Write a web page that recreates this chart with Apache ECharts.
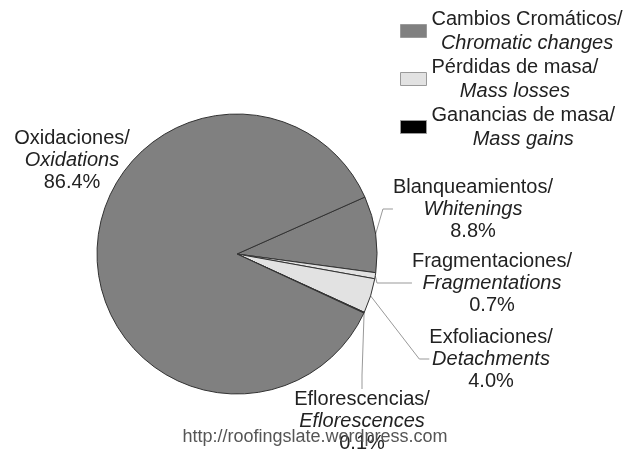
<!DOCTYPE html>
<html>
<head>
<meta charset="utf-8">
<script src="https://cdn.jsdelivr.net/npm/echarts@6/dist/echarts.min.js"></script>
<style>
  html, body { margin: 0; padding: 0; background: #fff; }
  #chart { width: 628px; height: 451px; }
</style>
</head>
<body>
<div id="chart"></div>
<script>
// Damage types (Spanish / English), share of cases in %, and damage group
const namesEs = ['Blanqueamientos/', 'Fragmentaciones/', 'Exfoliaciones/', 'Eflorescencias/', 'Oxidaciones/'];
const namesEn = ['Whitenings', 'Fragmentations', 'Detachments', 'Eflorescences', 'Oxidations'];
const shares = [8.8, 0.7, 4.0, 0.1, 86.4];
const groups = [0, 1, 1, 2, 0];

// Damage groups shown in the legend
const groupEs = ['Cambios Cromáticos/', 'Pérdidas de masa/', 'Ganancias de masa/'];
const groupEn = ['Chromatic changes', 'Mass losses', 'Mass gains'];
const groupColors = ['#808080', '#e2e2e2', '#000000'];

const FONT = '"Liberation Sans", Arial, sans-serif';

// Centre of each slice label block, and the horizontal tail of its leader line
const labelSpots = [[473, 209], [492, 283], [491, 359], [362, 421], [72, 160]];
const leaderTails = [10, 35, 10, 14, 0];

const groupNames = groupEs.map((g, i) => g + '\n' + groupEn[i]);

const pieData = shares.map((v, i) => ({
  name: namesEs[i] + '\n' + namesEn[i],
  value: v,
  itemStyle: { color: groupColors[groups[i]] },
  labelLine: { show: i !== 4, length2: leaderTails[i] }
}));

const richText = {
  a: { fontFamily: FONT, fontSize: 20, color: '#222', align: 'center', lineHeight: 22 },
  b: { fontFamily: FONT, fontSize: 20, fontStyle: 'italic', color: '#222', align: 'center', lineHeight: 22 }
};

const chart = echarts.init(document.getElementById('chart'), null, { renderer: 'canvas' });

chart.setOption({
  animation: false,
  backgroundColor: '#ffffff',
  grid: { show: false, left: -100, top: -100, width: 10, height: 10 },
  xAxis: { show: false, type: 'category', data: [] },
  yAxis: { show: false, type: 'value' },
  legend: {
    data: groupNames.map((n, i) => ({
      name: n,
      itemStyle: { color: groupColors[i], borderColor: '#9a9a9a', borderWidth: 1 }
    })),
    orient: 'vertical',
    left: 395,
    top: 4,
    itemWidth: 26,
    itemHeight: 13,
    itemGap: 4,
    icon: 'rect',
    selectedMode: false,
    formatter: n => {
      const parts = n.split('\n');
      return '{a|' + parts[0] + '}\n{b|' + parts[1] + '}';
    },
    textStyle: {
      rich: {
        a: { fontFamily: FONT, fontSize: 20, color: '#222', align: 'center', lineHeight: 24 },
        b: { fontFamily: FONT, fontSize: 20, fontStyle: 'italic', color: '#222', align: 'center', lineHeight: 24 }
      }
    }
  },
  graphic: [{
    type: 'text',
    z: 100,
    style: {
      x: 315, y: 437,
      text: 'http://roofingslate.wordpress.com',
      font: '18px ' + FONT,
      fill: '#555',
      align: 'center',
      verticalAlign: 'middle'
    }
  }],
  series: [
    {
      type: 'pie',
      center: [237, 254],
      radius: 140,
      startAngle: 24,
      clockwise: true,
      avoidLabelOverlap: false,
      data: pieData,
      itemStyle: { borderColor: '#333', borderWidth: 1 },
      emphasis: { disabled: true },
      label: {
        show: true,
        position: 'outside',
        formatter: p => {
          const i = p.dataIndex;
          return '{a|' + namesEs[i] + '}\n{b|' + namesEn[i] + '}\n{a|' + shares[i].toFixed(1) + '%}';
        },
        rich: richText
      },
      labelLine: {
        show: true,
        length: 15,
        length2: 10,
        lineStyle: { color: '#999', width: 1 }
      },
      labelLayout: params => ({
        x: labelSpots[params.dataIndex][0],
        y: labelSpots[params.dataIndex][1],
        align: 'center',
        verticalAlign: 'middle'
      })
    },
    ...groupNames.map((n, i) => ({
      type: 'bar',
      name: n,
      data: [],
      itemStyle: { color: groupColors[i] }
    }))
  ]
});
</script>
</body>
</html>
